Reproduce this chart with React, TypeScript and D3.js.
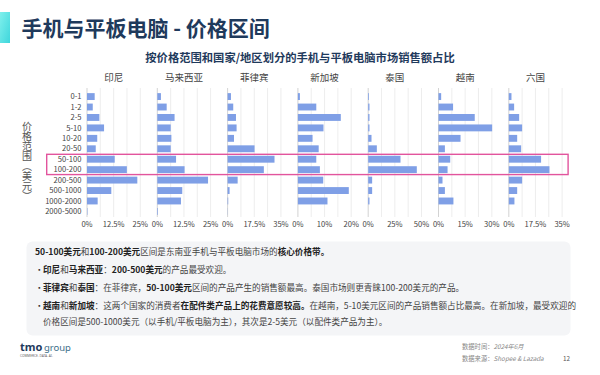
import React from 'react';
import * as d3 from 'd3';

const categories = ['0-1', '1-2', '2-5', '5-10', '10-20', '20-50', '50-100', '100-200', '200-500', '500-1000', '1000-2000', '2000-5000'];
const countries = ['印尼', '马来西亚', '菲律宾', '新加坡', '泰国', '越南', '六国'];
const axisMax = [25, 25, 35, 20, 50, 30, 35];

const indonesia = [3.6, 2.7, 5.8, 8.0, 4.8, 4.1, 13.0, 18.7, 23.6, 11.4, 5.0, 0.2];
const malaysia = [1.7, 4.4, 8.1, 6.3, 6.6, 6.3, 8.8, 12.8, 23.8, 11.7, 11.1, 0.3];
const philippines = [2.2, 3.7, 5.5, 5.9, 4.2, 17.7, 30.8, 23.8, 6.6, 1.3, 0.4, 0.1];
const singapore = [0.75, 6.9, 16.1, 9.6, 5.5, 7.8, 6.9, 8.25, 9.5, 19.1, 11.1, 0];
const thailand = [0.7, 1.2, 1.2, 1.2, 3.1, 8.1, 30.3, 45.6, 3.7, 3.7, 1.2, 0];
const vietnam = [1.5, 8.2, 20.4, 30.2, 12.4, 3.6, 6.6, 5.1, 2.25, 3.6, 8.4, 0];
const sixCountries = [1.75, 3.5, 6.8, 8.75, 5.5, 8.1, 21.2, 26.7, 8.75, 5.5, 3.7, 0];
const seriesValues = [indonesia, malaysia, philippines, singapore, thailand, vietnam, sixCountries];

const highlighted = ['50-100', '100-200'];

type Seg = [string, boolean];
const noteLines: { bullet: boolean; segs: Seg[] }[] = [
  { bullet: false, segs: [['50-100美元', true], ['和', false], ['100-200美元', true], ['区间是东南亚手机与平板电脑市场的', false], ['核心价格带。', true]] },
  { bullet: true, segs: [['印尼', true], ['和', false], ['马来西亚', true], ['：', false], ['200-500美元', true], ['的产品最受欢迎。', false]] },
  { bullet: true, segs: [['菲律宾', true], ['和', false], ['泰国', true], ['：在菲律宾，', false], ['50-100美元', true], ['区间的产品产生的销售额最高。泰国市场则更青睐100-200美元的产品。', false]] },
  { bullet: true, segs: [['越南', true], ['和', false], ['新加坡', true], ['：这两个国家的消费者', false], ['在配件类产品上的花费意愿较高。', true], ['在越南，5-10美元区间的产品销售额占比最高。在新加坡，最受欢迎的', false]] },
  { bullet: false, segs: [['价格区间是500-1000美元（以手机/平板电脑为主），其次是2-5美元（以配件类产品为主）。', false]] },
];

const FONT = '"Noto Sans CJK SC", "Noto Sans", sans-serif';

export default function App() {
  const W = 600;
  const H = 375;
  const panelX = d3.scaleBand<string>().domain(countries).range([87, 87 + 7 * 70.3]);
  const panelW = 53.3;
  const y = d3.scaleBand<string>().domain(categories).range([90, 218]).paddingInner(0.34).paddingOuter(0.3);
  const bw = y.bandwidth();
  const step = y.step();
  const gridTop = 88;
  const gridBottom = 217;

  const hlTop = (y(highlighted[0]) as number) - step * 0.14;
  const hlBottom = (y(highlighted[1]) as number) + bw + step * 0.14;
  const lastX0 = panelX(countries[countries.length - 1]) as number;

  const noteY = [255, 273, 291, 308.5, 325];

  return (
    <svg width={W} height={H} style={{ position: 'absolute', left: 0, top: 0, background: '#fff' }} fontFamily={FONT}>
      <defs>
        <linearGradient id="acc" x1="0" y1="0" x2="1" y2="1">
          <stop offset="0" stopColor="#7ff0ec" />
          <stop offset="1" stopColor="#3fd6dc" />
        </linearGradient>
      </defs>
      <rect x={0} y={0} width={W} height={H} fill="#fff" />
      <rect x={0} y={12} width={10} height={31} fill="url(#acc)" />
      <text x={21.5} y={36} fontSize={21} fontWeight={700} fill="#1f3a5c">手机与平板电脑 - 价格区间</text>
      <text x={300} y={62} fontSize={11.3} fontWeight={700} fill="#1f3a5c" textAnchor="middle">按价格范围和国家/地区划分的手机与平板电脑市场销售额占比</text>

      {/* y axis title */}
      <text x={27} y={161} fontSize={10} fill="#555" textAnchor="middle" style={{ writingMode: 'vertical-rl' }}>价格范围（美元）</text>

      {/* y labels */}
      {categories.map((c) => (
        <text key={c} x={81.5} y={(y(c) as number) + bw / 2} dy="0.35em" fontSize={7.6} fill="#444" textAnchor="end">{c}</text>
      ))}

      {countries.map((country, i) => {
        const x0 = panelX(country) as number;
        const max = axisMax[i];
        const x = d3.scaleLinear().domain([0, max]).range([x0, x0 + panelW]);
        const grid = d3.range(0, 5).map((k) => (max * k) / 4);
        const ticks = [0, max / 2, max];
        return (
          <g key={country}>
            <text x={x0 + panelW / 2} y={81} fontSize={9.5} fill="#444" textAnchor="middle">{country}</text>
            {grid.map((g, k) => (
              <line key={k} x1={x(g)} x2={x(g)} y1={gridTop} y2={gridBottom} stroke={k === 0 ? '#c8c8c8' : '#e8e8e8'} strokeWidth={0.8} />
            ))}
            {categories.map((c, j) => (
              <rect key={c} x={x(0)} y={y(c) as number} width={Math.max(0, x(seriesValues[i][j]) - x(0))} height={bw} fill="#7f9fe6" />
            ))}
            {ticks.map((t, k) => (
              <text key={k} x={x(t)} y={227} fontSize={7.6} fill="#444" textAnchor="middle">{`${t}%`}</text>
            ))}
          </g>
        );
      })}

      <rect x={46.7} y={hlTop} width={lastX0 + panelW + 6 - 46.7} height={hlBottom - hlTop} fill="none" stroke="#e2549d" strokeWidth={1.4} />

      {/* note box */}
      <rect x={26.5} y={241.5} width={544} height={94} rx={6} fill="#f4f5f7" />
      {noteLines.map((ln, i) => (
        <g key={i}>
          {ln.bullet && <text x={35} y={noteY[i]} fontSize={8.6} fill="#333">·</text>}
          <text x={ln.bullet || i === 4 ? 43 : 35} y={noteY[i]} fontSize={8.6} fill="#333">
            {ln.segs.map((s, k) => (
              <tspan key={k} fontWeight={s[1] ? 700 : 400} fill={s[1] ? '#222' : '#444'}>{s[0]}</tspan>
            ))}
          </text>
        </g>
      ))}

      {/* logo */}
      <text x={20} y={351} fontSize={11} fontWeight={700} fill="#1f3a5c" fontFamily='"Noto Sans", sans-serif'>
        tmo<tspan fontWeight={400} fill="#3c6e8a" dx={1.5} fontSize={9.5}>group</tspan>
      </text>
      <text x={20} y={357} fontSize={3.2} fill="#666" fontFamily='"Noto Sans", sans-serif'>COMMERCE. DATA. AI.</text>

      {/* footer */}
      <text x={462} y={349} fontSize={6.3} fill="#888">数据时间：<tspan fontStyle="italic">2024年6月</tspan></text>
      <text x={462} y={361} fontSize={6.3} fill="#888">数据来源：<tspan fontStyle="italic">Shopee &amp; Lazada</tspan></text>
      <text x={563} y={361} fontSize={6.3} fill="#555">12</text>
    </svg>
  );
}
